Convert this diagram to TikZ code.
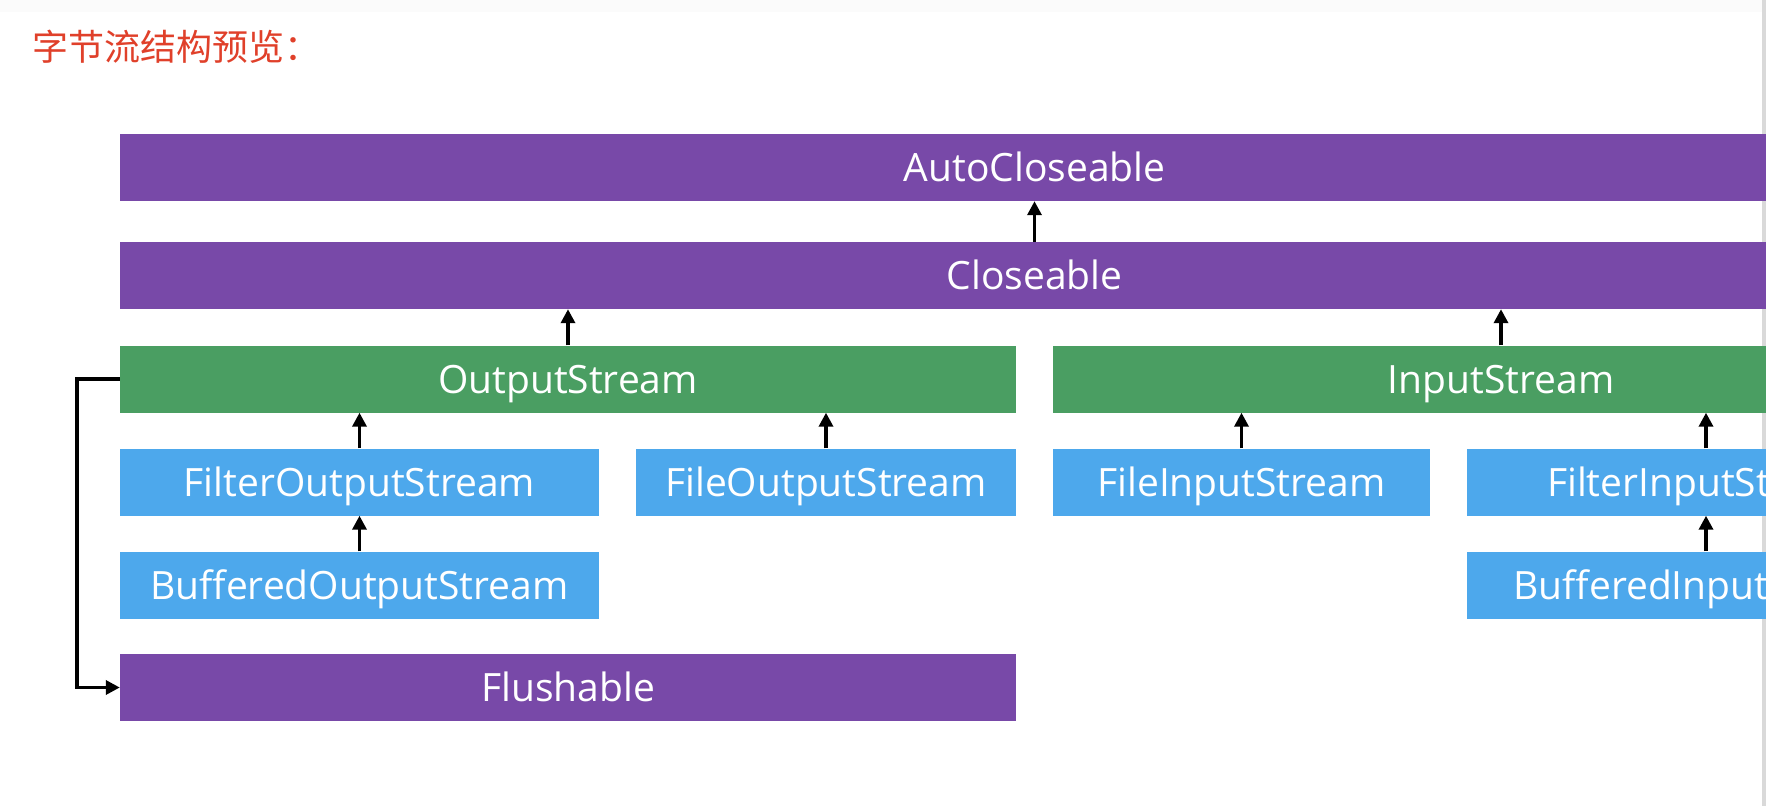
\documentclass[tikz,border=0pt]{standalone}
\usepackage{fontspec}
\setmainfont{Open Sans}
\newfontfamily\cjk{Noto Sans CJK SC}
\usetikzlibrary{arrows.meta}
\definecolor{purp}{HTML}{7849A8}
\definecolor{grn}{HTML}{4A9E62}
\definecolor{blu}{HTML}{4DA8EC}
\definecolor{titred}{HTML}{E0402A}
\tikzset{
  bar/.style={rectangle, draw=none, inner sep=0pt, text=white,
    font=\fontsize{39}{41}\selectfont, text height=28pt, text depth=0pt,
    minimum height=67pt},
  ifc/.style={bar, fill=purp},
  abs/.style={bar, fill=grn},
  cls/.style={bar, fill=blu},
  inh/.style={line width=3.4pt, -{Triangle[length=14pt,width=14pt]}},
}
\begin{document}
\begin{tikzpicture}[x=1pt,y=-1pt]
\useasboundingbox (0,0) rectangle (1766,806);
\clip (0,0) rectangle (1766,806);
\fill[white] (0,0) rectangle (1766,806);
\fill[black!1.5] (0,0) rectangle (1766,12);
\fill[black!15] (1762,0) rectangle (1766,806);

\node[anchor=base west, inner sep=0pt, text=titred, font=\cjk\fontsize{36}{40}\selectfont] (title) at (32,60) {字节流结构预览：};

\node[ifc, minimum width=1829pt] (auto) at (1034.5,167.5) {AutoCloseable};
\node[ifc, minimum width=1829pt] (close) at (1034.5,275.5) {Closeable};
\node[abs, minimum width=896pt] (out) at (568,379) {OutputStream};
\node[abs, minimum width=896pt] (in) at (1501,379) {InputStream};
\node[cls, minimum width=479pt] (fout) at (359.5,482) {FilterOutputStream};
\node[cls, minimum width=380pt] (fileout) at (826,482) {FileOutputStream};
\node[cls, minimum width=377pt] (filein) at (1241.5,482) {FileInputStream};
\node[cls, minimum width=479pt] (fin) at (1706,482) {FilterInputStream};
\node[cls, minimum width=479pt] (bout) at (359.5,585) {BufferedOutputStream};
\node[cls, minimum width=479pt] (bin) at (1706,585) {BufferedInputStream};
\node[ifc, minimum width=896pt] (flush) at (568,687.5) {Flushable};

\draw[inh] (close.north) -- (close.north |- auto.south);
\draw[inh] (out.north) -- (out.north |- close.south);
\draw[inh] (in.north) -- (in.north |- close.south);
\draw[inh] (fout.north) -- (fout.north |- out.south);
\draw[inh] (fileout.north) -- (fileout.north |- out.south);
\draw[inh] (filein.north) -- (filein.north |- in.south);
\draw[inh] (fin.north) -- (fin.north |- in.south);
\draw[inh] (bout.north) -- (bout.north |- fout.south);
\draw[inh] (bin.north) -- (bin.north |- fin.south);
\draw[inh] (out.west) -- ++(-43,0) |- (flush.west);
\end{tikzpicture}
\end{document}
